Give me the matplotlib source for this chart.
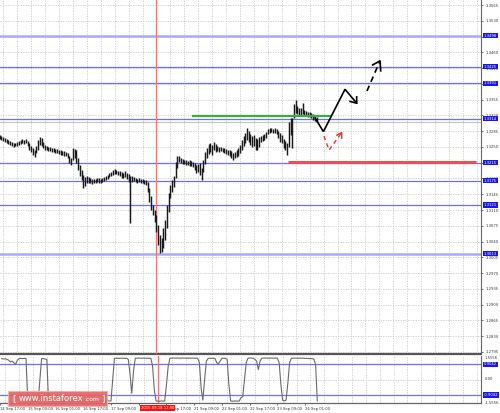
import matplotlib
matplotlib.use("Agg")
import matplotlib.pyplot as plt
from matplotlib.patches import Rectangle
import matplotlib.transforms as mtrans

# ---------------- data ----------------
bar_high = [1.3276,1.3274,1.3272,1.3270,1.3268,1.3265,1.3263,1.3261,1.3259,1.3259,
            1.3261,1.3263,1.3265,1.3268,1.3265,1.3268,1.3263,1.3259,1.3252,1.3248,
            1.3243,1.3252,1.3265,1.3272,1.3270,1.3261,1.3254,1.3252,1.3250,1.3250,
            1.3248,1.3248,1.3245,1.3245,1.3243,1.3243,1.3241,1.3241,1.3239,1.3236,
            1.3230,1.3225,1.3248,1.3245,1.3243,1.3225,1.3210,1.3199,1.3188,1.3183,
            1.3185,1.3183,1.3181,1.3179,1.3179,1.3179,1.3181,1.3181,1.3179,1.3181,
            1.3183,1.3185,1.3188,1.3192,1.3194,1.3199,1.3201,1.3199,1.3196,1.3196,
            1.3194,1.3192,1.3196,1.3192,1.3190,1.3185,1.3185,1.3183,1.3181,1.3179,
            1.3181,1.3179,1.3179,1.3177,1.3177,1.3172,1.3159,1.3141,1.3121,1.3110,
            1.3099,1.3077,1.3055,1.3048,1.3070,1.3088,1.3121,1.3148,1.3165,1.3177,
            1.3185,1.3216,1.3230,1.3230,1.3225,1.3223,1.3221,1.3221,1.3219,1.3221,
            1.3219,1.3216,1.3214,1.3210,1.3212,1.3214,1.3203,1.3221,1.3239,1.3248,
            1.3256,1.3259,1.3254,1.3261,1.3256,1.3252,1.3250,1.3250,1.3248,1.3248,
            1.3245,1.3243,1.3243,1.3241,1.3236,1.3239,1.3243,1.3248,1.3254,1.3265,
            1.3274,1.3281,1.3292,1.3285,1.3279,1.3274,1.3276,1.3270,1.3268,1.3272,
            1.3274,1.3276,1.3279,1.3283,1.3290,1.3292,1.3292,1.3290,1.3292,1.3290,
            1.3285,1.3281,1.3276,1.3268,1.3263,1.3259,1.3305,1.3314,1.3314,1.3345,
            1.3354,1.3341,1.3336,1.3336,1.3347,1.3332,1.3330,1.3327,1.3327,1.3325,
            1.3323,1.3319,1.3316]
bar_low = [1.3268,1.3265,1.3263,1.3261,1.3259,1.3256,1.3254,1.3252,1.3250,1.3252,
           1.3252,1.3254,1.3256,1.3259,1.3256,1.3259,1.3252,1.3243,1.3239,1.3232,
           1.3228,1.3236,1.3243,1.3254,1.3252,1.3248,1.3243,1.3243,1.3241,1.3241,
           1.3239,1.3239,1.3236,1.3236,1.3234,1.3232,1.3232,1.3230,1.3230,1.3225,
           1.3214,1.3210,1.3221,1.3225,1.3214,1.3199,1.3185,1.3177,1.3159,1.3163,
           1.3170,1.3170,1.3170,1.3168,1.3170,1.3170,1.3172,1.3170,1.3170,1.3172,
           1.3174,1.3177,1.3179,1.3183,1.3185,1.3188,1.3190,1.3190,1.3188,1.3185,
           1.3181,1.3181,1.3183,1.3179,1.3172,1.3081,1.3172,1.3174,1.3172,1.3170,
           1.3172,1.3170,1.3170,1.3168,1.3165,1.3150,1.3128,1.3110,1.3099,1.3083,
           1.3061,1.3033,1.3014,1.3017,1.3026,1.3044,1.3070,1.3106,1.3137,1.3150,
           1.3161,1.3181,1.3203,1.3216,1.3214,1.3212,1.3212,1.3210,1.3210,1.3208,
           1.3208,1.3205,1.3199,1.3192,1.3194,1.3188,1.3177,1.3194,1.3212,1.3225,
           1.3234,1.3239,1.3232,1.3243,1.3239,1.3241,1.3239,1.3241,1.3239,1.3236,
           1.3234,1.3232,1.3230,1.3225,1.3221,1.3225,1.3228,1.3230,1.3236,1.3243,
           1.3252,1.3259,1.3265,1.3261,1.3254,1.3250,1.3252,1.3243,1.3243,1.3250,
           1.3261,1.3263,1.3265,1.3270,1.3279,1.3281,1.3283,1.3281,1.3281,1.3279,
           1.3270,1.3261,1.3259,1.3248,1.3243,1.3232,1.3250,1.3276,1.3248,1.3314,
           1.3325,1.3323,1.3319,1.3319,1.3323,1.3319,1.3319,1.3316,1.3316,1.3314,
           1.3310,1.3308,1.3305]
bar_index = list(range(1, len(bar_high) + 1))

indicator = [1.25,1.22,1.24,1.20,1.15,1.05,1.10,1.00,0.90,1.15,
             1.25,1.26,1.25,1.26,1.25,-1.20,-1.25,-1.25,-1.26,-1.25,
             -1.25,-1.25,0.00,1.25,1.25,1.22,1.20,-1.25,-1.25,-1.25,
             -1.25,-1.25,-1.25,-1.25,-1.25,-1.25,-1.25,-1.25,-1.25,-1.25,
             -1.25,-1.25,-1.25,-1.25,-1.25,-1.25,-1.25,-1.25,-1.25,-1.25,
             -1.25,-1.25,-1.25,-1.25,-1.25,-1.25,-1.25,-1.25,-1.25,-1.25,
             -1.25,-1.25,-1.25,-1.25,0.00,1.27,1.27,1.26,1.27,1.27,
             1.27,1.26,1.27,1.20,0.30,-0.80,0.50,1.27,1.27,1.28,
             1.27,1.27,1.28,1.27,1.27,1.26,1.27,0.80,-0.60,-1.25,
             -1.26,-1.26,-1.25,-1.26,-1.25,-0.30,0.80,1.27,1.28,1.28,
             1.27,1.28,1.28,1.27,1.28,1.28,1.27,1.28,1.28,1.27,
             1.28,1.27,1.27,1.27,1.00,-0.50,-1.20,0.00,1.10,1.25,
             1.27,1.26,1.27,1.25,1.00,0.95,1.10,1.27,1.27,1.26,
             1.20,-0.30,-1.25,-1.26,-1.26,-1.25,-1.26,-1.25,-1.05,-1.00,
             0.00,1.00,1.27,1.28,1.28,1.27,1.20,1.10,0.60,1.10,
             1.27,1.28,1.28,1.28,1.27,1.28,1.28,1.27,1.28,1.27,
             1.00,-0.30,-1.20,-1.25,-1.20,-0.20,1.00,1.26,1.27,1.27,
             1.27,1.27,1.27,1.27,1.27,1.26,1.26,1.25,1.25,1.24,
             1.22,0.90,-1.25]

price_ticks = [1.2795,1.2830,1.2865,1.2900,1.2935,1.2970,1.3005,1.3040,1.3075,1.3110,
               1.3145,1.3180,1.3215,1.3250,1.3285,1.3320,1.3355,1.3390,1.3425,1.3460,
               1.3495,1.3530,1.3565]
# tick labels that are completely covered by a level box in the reference
hidden_ticks = [1.3215, 1.3390, 1.3495]
level_values = [1.3497,1.3428,1.3391,1.3313,1.3215,1.3175,1.3121,1.3013]
level_labels = ["1.3498","1.3425","1.3391","1.3314","1.3215","1.3175","1.3121","1.3013"]
level_light = [True, False, False, False, False, False, False, True]

date_tick_bars = [0,16,32,48,64,80,96,112,128,144,160,176]
date_tick_labels = ["14 Sep 17:00","15 Sep 09:00","16 Sep 01:00","16 Sep 17:00",
                    "17 Sep 09:00","","18 Sep 17:00","21 Sep 09:00",
                    "22 Sep 01:00","22 Sep 17:00","23 Sep 09:00","24 Sep 01:00"]
marker_bar = 91
marker_label = "2015.09.18 12:00"

resistance_green = 1.3319
green_span = (111.4, 191.9)
support_red = 1.3216
red_span = (166.6, 274.6)
bid_price = 1.3305

forecast_solid_bar = [182.1, 186.9, 199.3, 206.0]
forecast_solid_price = [1.3314, 1.3284, 1.3378, 1.3347]
forecast_dash_bar = [211.9, 219.4]
forecast_dash_price = [1.3374, 1.3441]
alt_bar = [187.2, 190.1, 197.4]
alt_price = [1.3274, 1.3243, 1.3282]

ind_levels = [0.9042, -0.9042]

# ---------------- layout ----------------
PW, PH = 500, 413
def fx(px): return px / PW
def fy(py): return 1 - py / PH

fig = plt.figure(figsize=(5.0, 4.13), dpi=100)
fig.patch.set_facecolor("white")

ax = fig.add_axes([0, fy(354), fx(481), fy(0) - fy(354)])
axi = fig.add_axes([0, fy(403), fx(481), fy(355.5) - fy(403)])

XL = (1.149, 277.4)
ax.set_xlim(*XL)
axi.set_xlim(*XL)
ax.set_ylim(1.27904, 1.35761)
axi.set_ylim(-1.37, 1.43)

FS = 2.7
TXT = "#333333"
BLUE = "#6f6ff2"
BOX = "#1717ee"
GRIDC = "#c9c9c9"

for a in (ax, axi):
    for s in ("left", "top"):
        a.spines[s].set_visible(False)
    a.spines["right"].set_color("#666666")
    a.spines["right"].set_linewidth(0.8)
    a.set_facecolor("white")
ax.spines["bottom"].set_color("#555555")
ax.spines["bottom"].set_linewidth(1.6)
axi.spines["bottom"].set_color("#666666")
axi.spines["bottom"].set_linewidth(0.9)

# grid
vgrid = [b + 3 for b in range(0, 280, 8)]
for a in (ax, axi):
    for g in vgrid:
        a.axvline(g, color=GRIDC, lw=0.6, ls=(0, (1.5, 1.5)), zorder=0)
for t in price_ticks:
    ax.axhline(t, color=GRIDC, lw=0.6, ls=(0, (1.5, 1.5)), zorder=0)
axi.axhline(0, color=GRIDC, lw=0.6, ls=(0, (1.5, 1.5)), zorder=0)

# y ticks of price panel
ax.yaxis.tick_right()
ax.set_yticks(price_ticks)
ax.set_yticklabels(["" if t in hidden_ticks else f"{t:.4f}" for t in price_ticks])
ax.tick_params(axis="y", labelsize=FS, colors=TXT, length=1.5, width=0.5, pad=1.5)
ax.set_xticks([])

# level lines
for v, lab, light in zip(level_values, level_labels, level_light):
    if light:
        ax.axhline(v, color="#a9a9f7", lw=1.8, zorder=2)
    else:
        ax.axhline(v, color=BLUE, lw=0.9, zorder=2)
    ax.text(1.006, v, lab, transform=ax.get_yaxis_transform(), ha="left", va="center",
            fontsize=FS, color="white", clip_on=False, zorder=10,
            bbox=dict(boxstyle="square,pad=0.18", fc=BOX, ec="none"))

ax.axhline(bid_price, color="#c2c2c2", lw=0.8, zorder=1)

# candles
ax.vlines(bar_index, bar_low, bar_high, color="#1a1a1a", lw=1.05, zorder=4)

# marker line
ax.axvline(marker_bar, color="#ff7070", lw=0.9, zorder=3)
axi.axvline(marker_bar, color="#ff7070", lw=0.9, zorder=3)

# green and red horizontal levels
ax.hlines(resistance_green, *green_span, color="#3aae3a", lw=1.6, zorder=5)
ax.hlines(support_red, *red_span, color="#e4505c", lw=2.2, zorder=5)

# forecast paths
ax.plot(forecast_solid_bar, forecast_solid_price, color="black", lw=1.2, zorder=6,
        solid_capstyle="round", solid_joinstyle="miter")
tip_i, tip_p = forecast_solid_bar[-1], forecast_solid_price[-1]
ax.plot([tip_i - 3.8, tip_i, tip_i], [tip_p + 0.0004, tip_p, tip_p + 0.0014],
        color="black", lw=1.2, zorder=6)
ax.plot(forecast_dash_bar, forecast_dash_price, color="black", lw=1.2, zorder=6,
        ls=(0, (3.5, 2.5)))
tip_i, tip_p = forecast_dash_bar[-1], forecast_dash_price[-1]
ax.plot([tip_i - 4.2, tip_i, tip_i + 0.4], [tip_p - 0.0009, tip_p, tip_p - 0.0022],
        color="black", lw=1.2, zorder=6)
ax.plot(alt_bar, alt_price, color="#ff2a2a", lw=1.0, zorder=6, ls=(0, (3, 2.5)))
tip_i, tip_p = alt_bar[-1], alt_price[-1]
ax.plot([tip_i - 2.8, tip_i, tip_i], [tip_p - 0.0006, tip_p, tip_p - 0.0013],
        color="#ff2a2a", lw=1.0, zorder=6)

# ---------------- indicator panel ----------------
axi.plot(bar_index, indicator, color="#6a6a6a", lw=0.8, zorder=4)
for v in ind_levels:
    axi.axhline(v, color=BLUE, lw=0.9, zorder=2)
    axi.text(1.006, v, f"{v:.4f}", transform=axi.get_yaxis_transform(), ha="left",
             va="center", fontsize=FS, color="white", clip_on=False, zorder=10,
             bbox=dict(boxstyle="square,pad=0.18", fc=BOX, ec="none"))
axi.set_yticks([])
for lab, ya in (("1.5556", 0.95), ("0.00", 0.5), ("-1.5556", 0.0)):
    axi.text(1.008, ya, lab, transform=axi.transAxes, ha="left", va="center",
             fontsize=FS, color=TXT, clip_on=False)

axi.set_xticks(date_tick_bars)
axi.set_xticklabels(date_tick_labels, ha="left")
axi.tick_params(axis="x", labelsize=FS, colors=TXT, length=1.5, width=0.5, pad=1.5)

trans = mtrans.blended_transform_factory(axi.transData, axi.transAxes)
axi.text(marker_bar, -0.11, marker_label, transform=trans, ha="center", va="center",
         fontsize=FS, color="white", clip_on=False, zorder=12,
         bbox=dict(boxstyle="square,pad=0.25", fc="#ff1010", ec="none"))

# ---------------- watermark ----------------
fig.patches.append(Rectangle((fx(8), fy(406)), fx(99), fy(391) - fy(406),
                             transform=fig.transFigure, fc="#e26464", ec="#f2b0b0",
                             lw=0.8, alpha=0.92, zorder=20))
fig.text(fx(12), fy(398.5), "[", color="white", fontsize=6.5, ha="left", va="center", zorder=21)
fig.text(fx(19), fy(398.5), "www.instaforex", color="white", fontsize=6.0, ha="left",
         va="center", zorder=21)
fig.text(fx(84), fy(399.2), ".com", color="white", fontsize=4.3, ha="left", va="center", zorder=21)
fig.text(fx(101), fy(398.5), "]", color="white", fontsize=6.5, ha="left", va="center", zorder=21)

fig.savefig("out.png", dpi=100, facecolor="white")
